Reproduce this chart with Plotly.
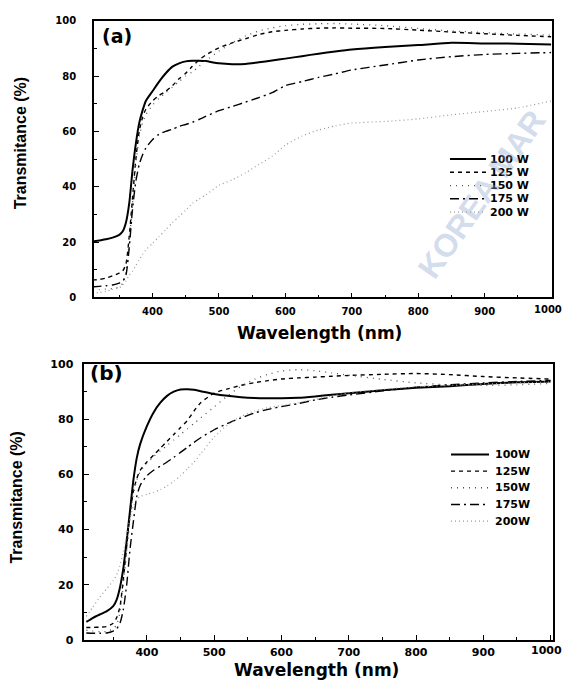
import plotly.graph_objects as go

# Wavelength grid (nm) shared by every spectrum
wavelength = [310, 320, 330, 340, 350, 355, 360, 365, 370, 375, 380, 385, 390, 400,
              410, 420, 430, 440, 450, 460, 470, 480, 500, 520, 540, 560, 580, 600,
              625, 650, 675, 700, 750, 800, 850, 900, 950, 1000]

powers = ["100 W", "125 W", "150 W", "175 W", "200 W"]
powers_b = ["100W", "125W", "150W", "175W", "200W"]

# Panel (a) transmittance (%)
a_100 = [20.2, 20.6, 21.0, 21.6, 22.6, 23.8, 27.0, 34.0, 46.0, 55.6, 63.0, 67.5, 71.0, 74.5,
         78.0, 81.0, 83.4, 84.6, 85.3, 85.5, 85.5, 85.4, 84.6, 84.3, 84.4, 85.0, 85.6, 86.3,
         87.2, 88.1, 88.9, 89.6, 90.5, 91.2, 92.0, 91.8, 91.7, 91.4]
a_125 = [6.3, 6.5, 7.0, 7.8, 8.8, 9.5, 12.0, 22.0, 36.0, 50.0, 60.0, 65.0, 68.0, 71.0,
         73.0, 74.5, 76.5, 79.0, 81.0, 83.5, 85.8, 87.6, 90.2, 92.0, 93.5, 95.0, 96.0, 96.5,
         97.0, 97.3, 97.4, 97.3, 97.2, 96.6, 95.9, 95.3, 94.7, 94.2]
a_150 = [2.5, 2.8, 3.0, 3.2, 3.8, 5.0, 9.0, 20.0, 34.0, 48.0, 58.0, 63.0, 66.0, 69.5,
         72.0, 74.0, 76.0, 78.0, 80.0, 81.5, 83.5, 85.5, 89.0, 92.0, 94.5, 96.3, 97.4, 98.2,
         98.7, 98.9, 99.0, 98.8, 98.2, 97.2, 96.3, 95.7, 95.2, 94.8]
a_175 = [3.8, 4.0, 4.2, 4.5, 5.2, 5.8, 8.0, 18.0, 32.0, 42.0, 48.0, 51.5, 54.0, 57.0,
         59.0, 60.0, 60.8, 61.8, 62.5, 63.3, 64.3, 65.4, 67.5, 69.0, 70.6, 72.2, 74.0, 76.5,
         78.0, 79.5, 80.8, 82.2, 84.0, 85.8, 87.0, 87.8, 88.2, 88.5]
a_200 = [1.5, 1.8, 2.2, 2.8, 3.5, 4.5, 6.0, 8.0, 9.5, 11.5, 13.5, 15.5, 17.2, 19.5,
         22.0, 24.5, 27.0, 29.2, 31.5, 34.0, 35.5, 37.0, 40.5, 42.5, 45.0, 48.0, 51.0, 55.0,
         58.3, 60.5, 62.0, 63.0, 63.6, 64.5, 66.0, 67.2, 68.5, 71.0]

# Panel (b) transmittance (%)
b_100 = [6.5, 8.0, 9.2, 10.3, 12.2, 14.5, 19.0, 26.0, 36.0, 47.0, 58.0, 66.0, 71.0, 77.5,
         82.5, 86.0, 88.5, 90.0, 90.8, 90.9, 90.7, 90.2, 89.2, 88.5, 88.0, 87.7, 87.6, 87.6,
         87.8, 88.3, 88.9, 89.4, 90.5, 91.4, 92.0, 92.8, 93.4, 93.7]
b_125 = [4.5, 4.5, 4.6, 4.8, 6.0, 8.0, 12.0, 22.0, 34.0, 46.0, 54.0, 58.5, 61.5, 64.5,
         67.0, 69.5, 72.0, 74.5, 77.0, 79.5, 83.0, 86.0, 89.5, 91.0, 92.3, 93.3, 94.0, 94.6,
         95.0, 95.3, 95.6, 95.9, 96.3, 96.6, 96.2, 95.5, 95.0, 94.6]
b_150 = [3.5, 3.2, 3.0, 3.0, 4.0, 5.5, 10.0, 20.0, 32.0, 44.0, 53.0, 58.0, 61.0, 64.0,
         66.5, 68.5, 70.5, 72.5, 74.5, 76.5, 78.5, 80.5, 84.5, 88.5, 92.0, 94.5, 96.3, 97.5,
         98.0, 97.6, 96.8, 96.0, 94.5, 93.2, 92.5, 92.3, 92.5, 93.0]
b_175 = [2.5, 2.4, 2.4, 2.5, 3.2, 4.0, 6.0, 11.0, 20.0, 33.0, 43.0, 52.0, 56.0, 59.5,
         61.5, 63.0, 64.5, 66.2, 68.0, 69.8, 71.6, 73.3, 76.2, 78.5, 80.5, 82.3, 83.6, 84.6,
         85.7, 87.0, 88.0, 88.8, 90.3, 91.6, 92.5, 93.2, 93.7, 94.1]
b_200 = [8.5, 12.0, 15.5, 18.5, 21.5, 23.5, 27.0, 32.0, 38.0, 44.0, 48.5, 51.0, 52.0, 52.8,
         53.5, 54.5, 55.8, 57.5, 59.5, 62.0, 64.5, 67.5, 73.5, 78.0, 81.0, 83.0, 84.2, 85.0,
         86.0, 87.2, 88.5, 89.6, 90.8, 91.8, 92.3, 92.8, 93.2, 93.5]

x_ticks = [400, 500, 600, 700, 800, 900, 1000]
y_ticks = [0, 20, 40, 60, 80, 100]

W, H = 564, 691


def px(x):
    return x / W


def py(y):
    return 1 - y / H


styles = [
    dict(color="black", width=2.0, dash="solid"),
    dict(color="black", width=1.4, dash="4px,4px"),
    dict(color="#555555", width=1.3, dash="1px,5px"),
    dict(color="black", width=1.4, dash="9px,4px,2px,4px"),
    dict(color="#9a9a9a", width=1.2, dash="1px,3px"),
]

fig = go.Figure()

panel_a = [a_100, a_125, a_150, a_175, a_200]
panel_b = [b_100, b_125, b_150, b_175, b_200]

for name, ys, st in zip(powers, panel_a, styles):
    fig.add_trace(go.Scatter(x=wavelength, y=ys, mode="lines", name=name,
                             line=dict(shape="spline", smoothing=0.6, **st),
                             xaxis="x", yaxis="y", showlegend=False))
for name, ys, st in zip(powers_b, panel_b, styles):
    fig.add_trace(go.Scatter(x=wavelength, y=ys, mode="lines", name=name,
                             line=dict(shape="spline", smoothing=0.6, **st),
                             xaxis="x2", yaxis="y2", showlegend=False))

tick_font_a = dict(family="DejaVu Sans", size=10, color="black", weight="bold")
tick_font_b = dict(family="DejaVu Sans", size=11, color="black", weight="bold")


def xaxis(domain, rng, anchor, tf, standoff):
    return dict(domain=domain, range=rng, anchor=anchor, tickvals=x_ticks,
                ticks="inside", ticklen=5, tickwidth=1.2, tickcolor="black",
                minor=dict(dtick=50, tick0=0, ticks="inside", ticklen=3, tickcolor="black"),
                showline=True, linecolor="black", linewidth=1.6, mirror=True,
                showgrid=False, zeroline=False, tickfont=tf, ticklabelstandoff=standoff)


def yaxis(domain, anchor, tf, standoff):
    return dict(domain=domain, range=[0, 100], anchor=anchor, tickvals=y_ticks,
                ticks="inside", ticklen=5, tickwidth=1.2, tickcolor="black",
                minor=dict(dtick=10, tick0=0, ticks="inside", ticklen=3, tickcolor="black"),
                showline=True, linecolor="black", linewidth=1.6, mirror=True,
                showgrid=False, zeroline=False, tickfont=tf, ticklabelstandoff=standoff)


fig.update_layout(
    width=W, height=H, margin=dict(l=0, r=0, t=0, b=0),
    paper_bgcolor="white", plot_bgcolor="white", showlegend=False,
    xaxis=xaxis([px(94), px(551.5)], [312, 1000.5], "y", tick_font_a, 4),
    yaxis=yaxis([py(297), py(15)], "x", tick_font_a, 14),
    xaxis2=xaxis([px(84.3), px(553.3)], [307, 1004], "y2", tick_font_b, 1),
    yaxis2=yaxis([py(646), py(365)], "x2", tick_font_b, 7),
)

ann = []
title_x = dict(family="DejaVu Sans", size=17, color="black", weight="bold")
title_y = dict(family="Liberation Sans", size=16, color="black", weight="bold")
panel_f = dict(family="DejaVu Sans", size=19, color="black", weight="bold")

ann.append(dict(text="Wavelength (nm)", x=px(319), y=py(333), font=title_x))
ann.append(dict(text="Wavelength (nm)", x=px(316), y=py(677), font=title_x))
ann.append(dict(text="Transmitance (%)", x=px(20), y=py(140), textangle=-90, font=title_y))
ann.append(dict(text="Transmitance (%)", x=px(17), y=py(501), textangle=-90, font=title_y))
ann.append(dict(text="(a)", x=px(100), y=py(31), xanchor="left", font=panel_f))
ann.append(dict(text="(b)", x=px(88), y=py(374), xanchor="left",
                font=dict(panel_f, size=20)))

# The last x tick label sits against the page edge, so it is right-aligned there
ann.append(dict(text=str(x_ticks[-1]), x=1.0, y=py(309), xanchor="right", font=tick_font_a))
ann.append(dict(text=str(x_ticks[-1]), x=1.0, y=py(657), xanchor="right", font=tick_font_b))

# Legends drawn inside each panel
shapes = []
leg_font = dict(family="DejaVu Sans", size=11, color="black", weight="bold")
rows_a = [156, 169.5, 183, 196.5, 210]
rows_b = [457, 474, 491, 508, 525]
for lbls, rows, x0, x1, xt in [(powers, rows_a, 450, 486, 488), (powers_b, rows_b, 451, 489, 493)]:
    for lbl, yy, st in zip(lbls, rows, styles):
        shapes.append(dict(type="line", xref="paper", yref="paper",
                           x0=px(x0), x1=px(x1), y0=py(yy), y1=py(yy), line=st))
        ann.append(dict(text=lbl, x=px(xt), y=py(yy), xanchor="left", font=leg_font))

# Faint watermark lettering
ann.append(dict(text="KOREA MAR", x=px(482), y=py(192), textangle=-55,
                font=dict(family="Liberation Sans", size=32, color="rgba(140,165,205,0.4)",
                          weight="bold")))

for a in ann:
    a.setdefault("xref", "paper")
    a.setdefault("yref", "paper")
    a.setdefault("showarrow", False)
    a.setdefault("xanchor", "center")
    a.setdefault("yanchor", "middle")

fig.update_layout(annotations=ann, shapes=shapes)
fig.write_html("out.html")
